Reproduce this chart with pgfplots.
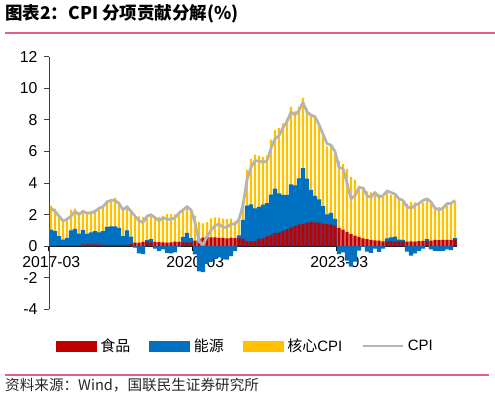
\documentclass[border=0pt]{standalone}
\usepackage{fontspec}
\setmainfont{Liberation Sans}
\newfontfamily\cjk{Noto Sans CJK SC}
\usepackage{pgfplots}
\usepackage{pgfplotstable}
\pgfplotsset{compat=1.18}
\definecolor{cfood}{RGB}{192,0,0}
\definecolor{cenergy}{RGB}{0,112,192}
\definecolor{ccore}{RGB}{255,192,0}
\definecolor{ccpi}{RGB}{180,180,180}
\definecolor{cpink}{RGB}{224,100,130}

\pgfplotstableread{
i F E C cpi
0 0.03 1.02 1.51 2.4
1 0.03 0.92 1.43 2.2
2 0.03 0.60 1.28 1.9
3 0.03 0.39 1.28 1.6
4 0.03 0.50 1.28 1.7
5 0.03 0.97 1.28 1.9
6 0.03 1.07 1.28 2.2
7 0.03 0.77 1.36 2.0
8 0.12 0.90 1.28 2.2
9 0.12 0.66 1.36 2.1
10 0.12 0.76 1.36 2.1
11 0.12 0.83 1.36 2.2
12 0.12 0.76 1.59 2.4
13 0.08 0.87 1.59 2.5
14 0.08 1.14 1.66 2.8
15 0.08 1.18 1.74 2.9
16 0.08 1.18 1.81 2.9
17 0.08 1.08 1.66 2.7
18 0.08 0.55 1.66 2.3
19 0.08 0.92 1.59 2.5
20 0.15 0.45 1.66 2.2
21 0.22 -0.10 1.66 1.9
22 0.22 -0.45 1.66 1.6
23 0.27 -0.50 1.59 1.5
24 0.28 0.10 1.51 1.9
25 0.24 0.20 1.59 2.0
26 0.27 -0.15 1.51 1.8
27 0.26 -0.32 1.59 1.6
28 0.24 -0.20 1.66 1.8
29 0.23 -0.42 1.81 1.7
30 0.24 -0.45 1.81 1.7
31 0.28 -0.40 1.74 1.8
32 0.27 -0.05 1.74 2.1
33 0.24 0.35 1.74 2.3
34 0.24 0.60 1.74 2.5
35 0.24 0.27 1.81 2.3
36 0.35 -0.52 1.59 1.5
37 0.47 -1.60 1.06 0.3
38 0.54 -1.65 0.91 0.1
39 0.61 -1.13 0.91 0.6
40 0.55 -1.00 1.21 1.0
41 0.55 -0.81 1.28 1.3
42 0.53 -0.69 1.28 1.4
43 0.53 -0.83 1.21 1.2
44 0.50 -0.85 1.21 1.2
45 0.53 -0.63 1.21 1.4
46 0.51 -0.32 1.06 1.4
47 0.49 0.20 0.98 1.7
48 0.47 1.20 1.21 2.6
49 0.32 2.25 2.27 4.2
50 0.30 2.35 2.87 5.0
51 0.32 2.08 3.40 5.4
52 0.46 2.02 3.25 5.4
53 0.50 2.13 3.02 5.3
54 0.62 2.11 3.02 5.4
55 0.72 2.55 3.47 6.2
56 0.82 2.83 3.70 6.8
57 0.85 2.49 4.15 7.0
58 0.95 2.30 4.53 7.5
59 1.07 2.18 4.83 7.9
60 1.19 2.72 4.91 8.5
61 1.27 2.58 4.68 8.3
62 1.36 2.94 4.53 8.6
63 1.40 3.54 4.45 9.1
64 1.47 2.80 4.45 8.5
65 1.54 2.02 4.76 8.3
66 1.51 1.68 4.98 8.2
67 1.47 1.50 4.76 7.7
68 1.43 1.11 4.53 7.1
69 1.40 0.62 4.30 6.5
70 1.36 0.74 4.23 6.4
71 1.28 0.44 4.15 6.0
72 1.15 -0.50 4.23 5.0
73 1.04 -0.40 4.15 4.9
74 0.90 -0.91 4.00 4.0
75 0.77 -1.30 3.62 3.0
76 0.66 -0.98 3.55 3.2
77 0.58 -0.28 3.25 3.7
78 0.50 -0.04 3.10 3.7
79 0.45 -0.35 3.02 3.2
80 0.39 -0.42 3.02 3.1
81 0.36 -0.16 2.94 3.4
82 0.35 -0.36 2.94 3.1
83 0.30 -0.15 2.87 3.2
84 0.30 0.20 2.87 3.5
85 0.30 0.25 2.72 3.4
86 0.28 0.32 2.57 3.3
87 0.30 0.12 2.49 3.0
88 0.30 0.10 2.42 2.9
89 0.28 -0.35 2.42 2.5
90 0.31 -0.60 2.49 2.4
91 0.28 -0.45 2.49 2.6
92 0.32 -0.30 2.49 2.7
93 0.34 -0.15 2.42 2.9
94 0.34 0.10 2.49 3.0
95 0.35 -0.20 2.34 2.8
96 0.40 -0.30 2.11 2.4
97 0.38 -0.32 2.11 2.3
98 0.39 -0.30 2.11 2.4
99 0.40 -0.20 2.19 2.7
100 0.39 -0.25 2.34 2.7
101 0.43 0.08 2.34 2.9
}\datatable

\begin{document}
\begin{tikzpicture}
\path[use as bounding box] (0,0) rectangle (495pt,-398pt);
\node[anchor=west, inner sep=0pt, font=\cjk\bfseries\fontsize{17.5}{19}\selectfont] at (5pt,-14pt) {图表2：CPI 分项贡献分解(\%)};
\draw[cpink, line width=1.5pt] (5pt,-33pt) -- (495pt,-33pt);
\draw[cpink, line width=1.2pt] (5pt,-375pt) -- (489pt,-375pt);
\node[anchor=west, inner sep=0pt, font=\cjk\fontsize{14.6}{17}\selectfont, text=black!85] at (5pt,-385pt) {资料来源：Wind，国联民生证券研究所};
\begin{axis}[
  at={(49pt,-309.3pt)}, anchor=south west,
  scale only axis, width=408pt, height=252.6pt,
  xmin=-0.5, xmax=101.5, ymin=-4, ymax=12,
  axis y line*=left, axis x line*=middle,
  hide obscured x ticks=false, hide obscured y ticks=false,
  ytick={-4,-2,...,12},
  xtick={-0.5,35.5,71.5}, xticklabels={2017-03,2020-03,2023-03},
  tick align=outside, major tick length=5pt,
  tick label style={font=\fontsize{15.8}{18}\selectfont},
  /pgf/number format/assume math mode=true,
  xticklabel style={xshift=2.3pt, yshift=-4.5pt, inner sep=1pt},
  yticklabel style={xshift=-3pt},
  x axis line style={black, line width=1.2pt},
  y axis line style={black!75, line width=0.9pt},
  xtick style={black, line width=1.2pt},
  ytick style={black!75, line width=0.9pt},
  legend columns=4,
  legend style={at={(0.479,-0.145)}, anchor=center, draw=none, fill=none,
    font=\fontsize{15}{17}\selectfont, nodes={inner sep=0pt},
    /tikz/every odd column/.append style={column sep=4pt},
    /tikz/every even column/.append style={column sep=19pt}},
]
\addlegendimage{legend image code/.code={\fill[cfood] (0pt,-5pt) rectangle (40pt,5pt);}}
\addlegendentry{\cjk 食品}
\addlegendimage{legend image code/.code={\fill[cenergy] (0pt,-5pt) rectangle (40pt,5pt);}}
\addlegendentry{\cjk 能源}
\addlegendimage{legend image code/.code={\fill[ccore] (0pt,-5pt) rectangle (40pt,5pt);}}
\addlegendentry{{\cjk 核心}CPI}
\addlegendimage{legend image code/.code={\draw[ccpi, line width=2.5pt] (0pt,0pt) -- (40pt,0pt);}}
\addlegendentry{CPI}

\addplot[ybar, bar width=2.2pt, bar shift=0pt, fill=ccore, draw=none, forget plot]
  table[x=i, y expr={\thisrow{F}+max(\thisrow{E},0)+\thisrow{C}}] {\datatable};
\addplot[ybar, bar width=4.2pt, bar shift=0pt, fill=cenergy, draw=none, forget plot]
  table[x=i, y expr={\thisrow{E}>0 ? \thisrow{F}+\thisrow{E} : 0}] {\datatable};
\addplot[ybar, bar width=4.2pt, bar shift=0pt, fill=cenergy, draw=none, forget plot]
  table[x=i, y expr={min(\thisrow{E},0)}] {\datatable};
\addplot[ybar, bar width=3.2pt, bar shift=0pt, fill=cfood, draw=none, forget plot]
  table[x=i, y=F] {\datatable};
\addplot[ccpi, line width=2.7pt, line join=round, forget plot]
  table[x=i, y=cpi] {\datatable};
\end{axis}
\end{tikzpicture}
\end{document}
